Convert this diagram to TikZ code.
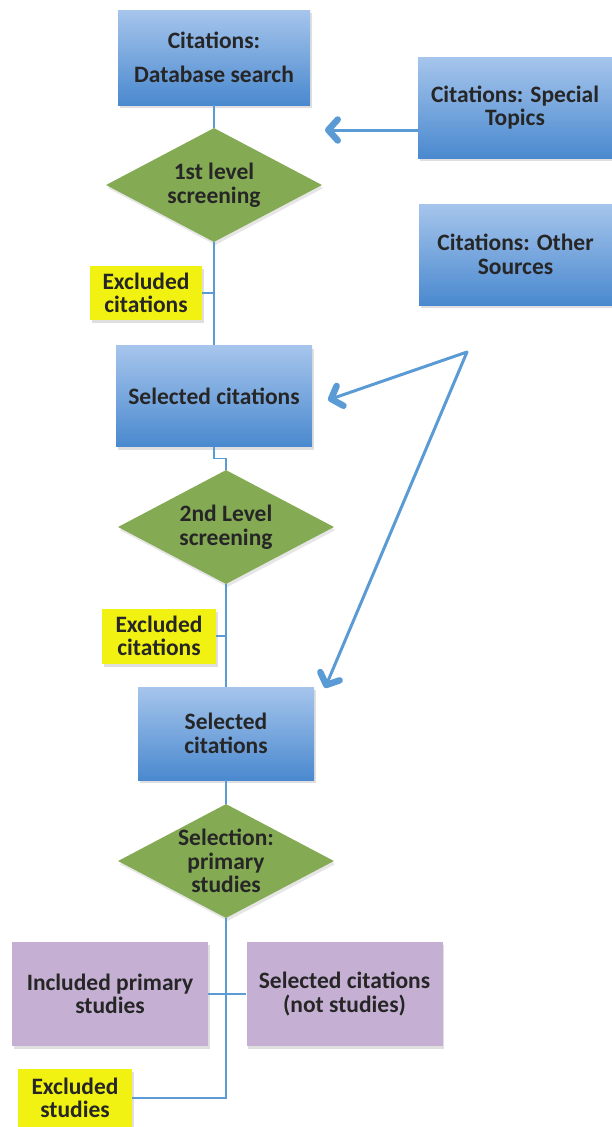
\documentclass[tikz,border=0pt]{standalone}
\usepackage{fontspec}
\setmainfont{Carlito}
\usetikzlibrary{arrows.meta,positioning,shapes,shadows}
\definecolor{boxtop}{RGB}{166,197,236}
\definecolor{boxbot}{RGB}{74,137,207}
\definecolor{screengreen}{RGB}{132,170,84}
\definecolor{exclyellow}{RGB}{242,242,18}
\definecolor{inclpurple}{RGB}{197,176,212}
\definecolor{linkblue}{RGB}{91,155,213}
\definecolor{ink}{RGB}{38,38,38}

\begin{document}
\begin{tikzpicture}[x=1pt,y=-1pt]
        \tikzstyle{cit}=[rectangle,top color=boxtop,bottom color=boxbot,%
          drop shadow={shadow xshift=1.5pt,shadow yshift=-3pt,opacity=.25},%
          text=ink,font=\bfseries\fontsize{23.5}{23.5}\selectfont,align=center,inner sep=0]
        \tikzstyle{screen}=[diamond,fill=screengreen,minimum width=216pt,%
          minimum height=114pt,inner sep=-20pt,%
          drop shadow={shadow xshift=1.5pt,shadow yshift=-3pt,opacity=.2},%
          text=ink,font=\bfseries\fontsize{23.5}{23.5}\selectfont,align=center]
        \tikzstyle{xbox}=[rectangle,fill=exclyellow,inner sep=0,%
          drop shadow={shadow xshift=1.5pt,shadow yshift=-3pt,opacity=.25},%
          text=ink,font=\bfseries\fontsize{23.5}{23.5}\selectfont,align=center]
        \tikzstyle{pbox}=[rectangle,fill=inclpurple,inner sep=0,%
          minimum width=196pt,minimum height=104pt,%
          drop shadow={shadow xshift=1.5pt,shadow yshift=-3pt,opacity=.25},%
          text=ink,font=\bfseries\fontsize{23.5}{23.5}\selectfont,align=center]
        \tikzstyle{line}=[draw=linkblue,line width=1.3pt]
        \tikzstyle{arr}=[draw=linkblue,line width=3pt,line join=round,%
          -{Straight Barb[length=9.5pt,width=21pt,line width=6.5pt 0,round]}]

      \useasboundingbox (0,0) rectangle (612,1127);

      \node[cit,minimum width=192pt,minimum height=95pt] (A) at (214,57.5) {Citations:\\[10pt]Database search};
      \node[screen] (B) at (214,185) {1st level\\screening};
      \node[xbox,minimum width=112pt,minimum height=54pt] (C) at (146,293) {Excluded\\citations};
      \node[cit,minimum width=196pt,minimum height=101pt] (D) at (214,396) {Selected citations};
      \node[screen] (E) at (226,527) {2nd Level\\screening};
      \node[xbox,minimum width=114pt,minimum height=55pt] (F) at (159,636) {Excluded\\citations};
      \node[cit,minimum width=176pt,minimum height=93pt] (G) at (226,733.5) {Selected\\citations};
      \node[screen] (H) at (226,861) {Selection:\\primary\\studies};
      \node[pbox] (I) at (110,994) {Included primary\\studies};
      \node[pbox] (J) at (344.5,994) {Selected citations\\(not studies)};
      \node[xbox,minimum width=114pt,minimum height=58pt] (K) at (75,1098) {Excluded\\studies};
      \node[cit,minimum width=194pt,minimum height=101pt] (S) at (515,107.5) {Citations: Special\\Topics};
      \node[cit,minimum width=193pt,minimum height=101pt] (O) at (515.5,254.5) {Citations: Other\\Sources};

      \coordinate (p) at (325,130);
      \coordinate (v) at (467,352);
      \coordinate (q) at (328,400);
      \coordinate (r) at (325,688);

      \draw[line] (A) -- (B);
      \draw[line] (B) -- (D);
      \draw[line] (C.east) -- (C.east -| B.south);
      \draw[line] (D.south) -- ++(0,12) -| (E.north);
      \draw[line] (E) -- (G);
      \draw[line] (F.east) -- (F.east -| E.south);
      \draw[line] (G) -- (H);
      \draw[line] (H.south) |- (K.east);
      \draw[line] (I) -- (J);

      \draw[arr] ([yshift=-22.5pt]S.west) -- (p);
      \draw[arr,{Straight Barb[length=9.5pt,width=21pt,line width=6.5pt 0,round]}-{Straight Barb[length=9.5pt,width=21pt,line width=6.5pt 0,round]}] (q) -- (v) -- (r);
    \end{tikzpicture}
\end{document}
